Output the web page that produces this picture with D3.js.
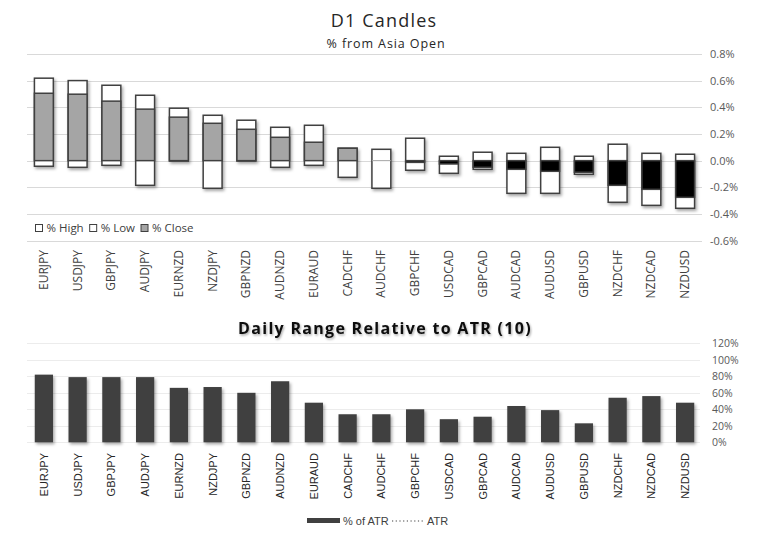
<!DOCTYPE html>
<html>
<head>
<meta charset="utf-8">
<script src="https://cdn.jsdelivr.net/npm/d3@7"></script>
<style>
  html, body { margin: 0; padding: 0; background: #fff; }
  svg { display: block; }
</style>
</head>
<body>
<svg id="chart" width="768" height="547"></svg>
<script>
// ---- data ----
const pairs = ["EURJPY","USDJPY","GBPJPY","AUDJPY","EURNZD","NZDJPY","GBPNZD","AUDNZD","EURAUD","CADCHF",
               "AUDCHF","GBPCHF","USDCAD","GBPCAD","AUDCAD","AUDUSD","GBPUSD","NZDCHF","NZDCAD","NZDUSD"];
const highPct  = [0.618, 0.600, 0.565, 0.490, 0.393, 0.340, 0.303, 0.250, 0.265, 0.093,
                  0.085, 0.168, 0.033, 0.063, 0.055, 0.100, 0.033, 0.123, 0.055, 0.048];
const lowPct   = [-0.042, -0.050, -0.035, -0.185, -0.003, -0.207, -0.003, -0.050, -0.035, -0.125,
                  -0.207, -0.072, -0.095, -0.065, -0.245, -0.245, -0.102, -0.312, -0.335, -0.357];
const closePct = [0.505, 0.498, 0.446, 0.386, 0.326, 0.280, 0.235, 0.175, 0.138, 0.093,
                  0.000, -0.013, -0.025, -0.050, -0.065, -0.080, -0.087, -0.185, -0.215, -0.275];
const topTicks = [0.8, 0.6, 0.4, 0.2, 0.0, -0.2, -0.4, -0.6];

const atrPct = [82, 79, 79, 79, 66, 67, 60, 74, 48, 34,
                34, 40, 28, 31, 44, 39, 23, 54, 56, 48];
const atrLevel = 100;
const bottomTicks = [0, 20, 40, 60, 80, 100, 120];

// ---- setup ----
const svg = d3.select("#chart");
const defs = svg.append("defs");
const f = defs.append("filter").attr("id","shadow").attr("x","-30%").attr("y","-30%").attr("width","170%").attr("height","170%");
f.append("feDropShadow").attr("dx",1.5).attr("dy",2).attr("stdDeviation",1.5)
  .attr("flood-color","#000").attr("flood-opacity",0.35);
const ft = defs.append("filter").attr("id","tshadow").attr("x","-10%").attr("y","-30%").attr("width","120%").attr("height","170%");
ft.append("feDropShadow").attr("dx",1).attr("dy",1.5).attr("stdDeviation",1)
  .attr("flood-color","#000").attr("flood-opacity",0.35);

const gridColor = "#d9d9d9";
const textColor = "#595959";

// ================= TOP CHART =================
const x1 = d3.scaleBand().domain(pairs).range([27, 702]).paddingInner(0.44).paddingOuter(0.22);
const y1 = d3.scaleLinear().domain([-0.6, 0.8]).range([240.7, 53.9]);

svg.append("text").attr("x", 384).attr("y", 27).attr("text-anchor","middle")
  .attr("font-family","'Open Sans', sans-serif").attr("font-size", 18).attr("letter-spacing", 1.2)
  .attr("fill","#262626").text("D1 Candles");
svg.append("text").attr("x", 386).attr("y", 48).attr("text-anchor","middle")
  .attr("font-family","'Open Sans', sans-serif").attr("font-size", 12.5).attr("letter-spacing", 0.9)
  .attr("fill","#262626").text("% from Asia Open");

// grid
const g1 = svg.append("g");
g1.selectAll("line.grid").data(topTicks).join("line")
  .attr("x1", 27).attr("x2", 702)
  .attr("y1", d => Math.round(y1(d)) + 0.5).attr("y2", d => Math.round(y1(d)) + 0.5)
  .attr("stroke", gridColor).attr("stroke-width", 1);

// right axis labels
const yAxis1 = d3.axisRight(y1).tickValues(topTicks).tickSize(0).tickPadding(0)
  .tickFormat(d => (d < 0 ? "-" : "") + Math.abs(d).toFixed(1) + "%");
const ya1 = svg.append("g").attr("transform","translate(710,0)").call(yAxis1);
ya1.select(".domain").remove();
ya1.selectAll("text").attr("font-family","'Open Sans', sans-serif").attr("font-size", 11).attr("fill", textColor);

// candles
const candles = svg.append("g");
pairs.forEach((p, i) => {
  const cx = x1(p), w = x1.bandwidth();
  candles.append("rect")
    .attr("x", cx).attr("width", w)
    .attr("y", y1(highPct[i])).attr("height", y1(lowPct[i]) - y1(highPct[i]))
    .attr("fill", "#fff").attr("stroke", "#404040").attr("stroke-width", 1.5)
    .attr("filter", "url(#shadow)");
});
pairs.forEach((p, i) => {
  const cx = x1(p), w = x1.bandwidth();
  const c = closePct[i];
  const yTop = y1(Math.max(0, c)), yBot = y1(Math.min(0, c));
  if (Math.abs(c) < 0.002) {
    candles.append("line").attr("x1", cx).attr("x2", cx + w)
      .attr("y1", y1(0)).attr("y2", y1(0)).attr("stroke", "#a5a5a5").attr("stroke-width", 1);
  } else {
    candles.append("rect")
      .attr("x", cx).attr("width", w)
      .attr("y", yTop).attr("height", yBot - yTop)
      .attr("fill", c > 0 ? "#a5a5a5" : "#000").attr("stroke", "#404040").attr("stroke-width", 1.5);
  }
});

// x labels
const xa1 = svg.append("g").attr("transform", "translate(0,0)");
pairs.forEach(p => {
  xa1.append("text")
    .attr("transform", `translate(${x1(p) + x1.bandwidth()/2 + 4},250) rotate(-90)`)
    .attr("text-anchor", "end")
    .attr("font-family","'Open Sans', sans-serif").attr("font-size", 12)
    .attr("fill", "#404040").text(p);
});

// top legend
const legItems = [{label:"% High", fill:"#fff"}, {label:"% Low", fill:"#fff"}, {label:"% Close", fill:"#a5a5a5"}];
let lx = 35.5;
const leg1 = svg.append("g");
legItems.forEach(it => {
  leg1.append("rect").attr("x", lx).attr("y", 224.5).attr("width", 7).attr("height", 7)
    .attr("fill", it.fill).attr("stroke", "#404040").attr("stroke-width", 1);
  const t = leg1.append("text").attr("x", lx + 11).attr("y", 232)
    .attr("font-family","'Open Sans', sans-serif").attr("font-size", 11.5).attr("fill", "#404040").text(it.label);
  lx += 11 + t.node().getComputedTextLength() + 6;
});

// ================= BOTTOM CHART =================
const x2 = d3.scaleBand().domain(pairs).range([27, 702]).paddingInner(0.46).paddingOuter(0.23);
const y2 = d3.scaleLinear().domain([0, 120]).range([442.3, 343.3]);

svg.append("text").attr("x", 385).attr("y", 334).attr("text-anchor","middle")
  .attr("font-family","'Open Sans', sans-serif").attr("font-weight", "bold").attr("font-size", 16)
  .attr("letter-spacing", 1.3).attr("fill", "#0d0d0d").attr("filter","url(#tshadow)")
  .text("Daily Range Relative to ATR (10)");

svg.append("g").selectAll("line").data(bottomTicks).join("line")
  .attr("x1", 27).attr("x2", 700)
  .attr("y1", d => Math.round(y2(d)) + 0.5).attr("y2", d => Math.round(y2(d)) + 0.5)
  .attr("stroke", "#ececec").attr("stroke-width", 1);

const yAxis2 = d3.axisRight(y2).tickValues(bottomTicks).tickSize(0).tickPadding(0).tickFormat(d => d + "%");
const ya2 = svg.append("g").attr("transform","translate(712,0)").call(yAxis2);
ya2.select(".domain").remove();
ya2.selectAll("text").attr("font-family","'Open Sans', sans-serif").attr("font-size", 10.5).attr("fill", textColor);

svg.append("g").selectAll("rect").data(pairs).join("rect")
  .attr("x", d => x2(d)).attr("width", x2.bandwidth())
  .attr("y", (d, i) => y2(atrPct[i])).attr("height", (d, i) => y2(0) - y2(atrPct[i]))
  .attr("fill", "#404040").attr("filter", "url(#shadow)");

// ATR dotted line
svg.append("line")
  .attr("x1", x2(pairs[0]) + x2.bandwidth()/2 - 1).attr("x2", x2(pairs[pairs.length-1]) + x2.bandwidth()/2)
  .attr("y1", y2(atrLevel)).attr("y2", y2(atrLevel))
  .attr("stroke", "#262626").attr("stroke-width", 1.5).attr("stroke-dasharray", "1.5,2")
  .attr("filter", "url(#tshadow)");

// bottom x labels
const xa2 = svg.append("g");
pairs.forEach(p => {
  xa2.append("text")
    .attr("transform", `translate(${x2(p) + x2.bandwidth()/2 + 4},453) rotate(-90)`)
    .attr("text-anchor", "end")
    .attr("font-family","'Liberation Sans', Arial, sans-serif").attr("font-size", 11)
    .attr("fill", "#262626").text(p);
});

// bottom legend
const leg2 = svg.append("g");
leg2.append("rect").attr("x", 307).attr("y", 518).attr("width", 33).attr("height", 5).attr("fill", "#404040");
leg2.append("text").attr("x", 343).attr("y", 525)
  .attr("font-family","'Liberation Sans Narrow', 'Liberation Sans', sans-serif").attr("font-size", 11)
  .attr("fill", "#404040").text("% of ATR");
leg2.append("line").attr("x1", 392).attr("x2", 425).attr("y1", 521).attr("y2", 521)
  .attr("stroke", "#404040").attr("stroke-width", 1.2).attr("stroke-dasharray", "1.2,2.5");
leg2.append("text").attr("x", 427).attr("y", 525)
  .attr("font-family","'Liberation Sans Narrow', 'Liberation Sans', sans-serif").attr("font-size", 11)
  .attr("fill", "#404040").text("ATR");
</script>
</body>
</html>
